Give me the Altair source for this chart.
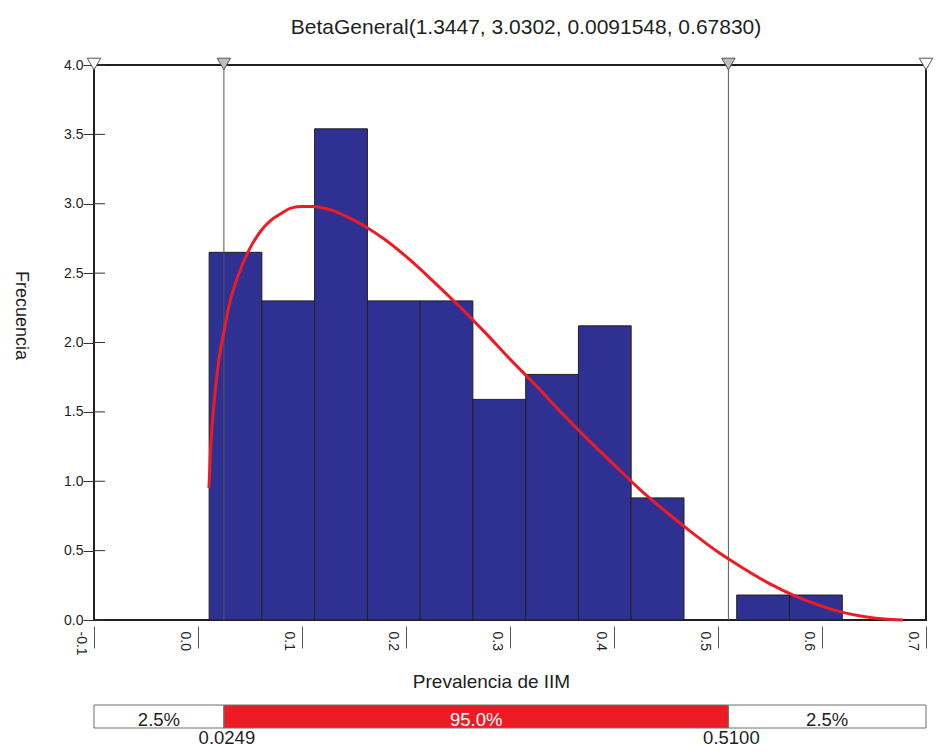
import altair as alt
import pandas as pd

# ---------------- data ----------------
bin_left = [0.0107, 0.0614, 0.1121, 0.1629, 0.2136, 0.2643, 0.3151, 0.3658, 0.4165, 0.4673, 0.5180, 0.5687]
bin_right = [0.0614, 0.1121, 0.1629, 0.2136, 0.2643, 0.3151, 0.3658, 0.4165, 0.4673, 0.5180, 0.5687, 0.6195]
bin_height = [2.65, 2.30, 3.54, 2.30, 2.30, 1.59, 1.77, 2.12, 0.88, 0.0, 0.18, 0.18]

curve_x = [0.0105, 0.012, 0.015, 0.020, 0.025, 0.030, 0.040, 0.050, 0.060, 0.070, 0.080, 0.090,
           0.100, 0.110, 0.120, 0.130, 0.145, 0.160, 0.180, 0.200, 0.225, 0.250, 0.275, 0.300,
           0.325, 0.350, 0.375, 0.400, 0.425, 0.450, 0.475, 0.500, 0.525, 0.550, 0.575, 0.600,
           0.620, 0.640, 0.660, 0.678]
curve_y = [0.95, 1.21, 1.53, 1.87, 2.08, 2.27, 2.51, 2.68, 2.80, 2.88, 2.93, 2.97,
           2.98, 2.98, 2.97, 2.95, 2.90, 2.84, 2.74, 2.62, 2.45, 2.27, 2.08, 1.88,
           1.69, 1.49, 1.30, 1.12, 0.94, 0.78, 0.63, 0.49, 0.37, 0.26, 0.17, 0.10,
           0.055, 0.025, 0.007, 0.0]

pct_values = [0.0249, 0.5100]
pct_labels = ["0.0249", "0.5100"]

band_start = [-0.1, 0.0249, 0.5100]
band_end = [0.0249, 0.5100, 0.7]
band_labels = ["2.5%", "95.0%", "2.5%"]
band_kind = ["tail", "mid", "tail"]

marker_x = [-0.1, 0.0249, 0.5100, 0.7]
marker_kind = ["end", "pct", "pct", "end"]

x_ticks = [-0.1, 0.0, 0.1, 0.2, 0.3, 0.4, 0.5, 0.6, 0.7]
y_ticks = [0.0, 0.5, 1.0, 1.5, 2.0, 2.5, 3.0, 3.5, 4.0]

title_text = "BetaGeneral(1.3447, 3.0302, 0.0091548, 0.67830)"
x_title = "Prevalencia de IIM"
y_title = "Frecuencia"

# ---------------- tables ----------------
bins_df = pd.DataFrame({"x0": bin_left, "x1": bin_right, "h": bin_height})
curve_df = pd.DataFrame({"x": curve_x, "y": curve_y})
pct_df = pd.DataFrame({"v": pct_values, "lab": pct_labels})
band_df = pd.DataFrame({"s": band_start, "e": band_end, "lab": band_labels, "kind": band_kind})
marker_df = pd.DataFrame({"x": marker_x, "kind": marker_kind})
ytick_df = pd.DataFrame({"t": y_ticks})

FONT = "Liberation Sans"
TXT = "#231f20"
W, H = 832, 555

xs = alt.Scale(domain=[-0.1, 0.7], nice=False, zero=False)
ys = alt.Scale(domain=[0, 4], nice=False, zero=False)

x_axis = alt.Axis(
    title=x_title, values=x_ticks, labelAngle=90,
    labelExpr="datum.value < 0 ? '-' + format(abs(datum.value), '.1f') : format(datum.value, '.1f')",
    offset=6, domain=False, tickSize=22, tickColor="#555", tickWidth=1,
    labelPadding=-17, labelOffset=-14, labelFontSize=14, labelColor=TXT, labelFont=FONT,
    labelFlush=False,
    titleFontSize=19, titleFont=FONT, titleFontWeight="normal", titleColor=TXT,
    titlePadding=17, titleX=397, grid=False)

y_axis = alt.Axis(
    title=y_title, values=y_ticks, format=".1f", domain=False,
    tickSize=11, tickColor="#333", labelPadding=0, labelFontSize=14, labelColor=TXT,
    labelFont=FONT, titleAngle=90, titleBaseline="top", titleFontSize=18,
    titleFont=FONT, titleFontWeight="normal", titleColor=TXT, titlePadding=34,
    titleY=250, grid=False)

bars = alt.Chart(bins_df).mark_rect(color="#2E3192", stroke="#231f20", strokeWidth=1).encode(
    x=alt.X("x0:Q", scale=xs, axis=x_axis),
    x2="x1:Q",
    y=alt.Y("h:Q", scale=ys, axis=y_axis),
    y2=alt.datum(0),
)

inner_ticks = alt.Chart(ytick_df).mark_rule(color="#333", strokeWidth=1).encode(
    y=alt.Y("t:Q", scale=ys, axis=y_axis),
    x=alt.value(0),
    x2=alt.value(11),
)

rules = alt.Chart(pct_df).mark_rule(color="#555", strokeWidth=1).encode(
    x=alt.X("v:Q", scale=xs, axis=x_axis),
    y=alt.value(0),
    y2=alt.value(H),
)

curve = alt.Chart(curve_df).mark_line(color="#ED1C24", strokeWidth=3, interpolate="monotone").encode(
    x=alt.X("x:Q", scale=xs, axis=x_axis),
    y=alt.Y("y:Q", scale=ys, axis=y_axis),
)

markers = alt.Chart(marker_df).mark_point(
    shape="triangle-down", size=180, filled=True, stroke="#555", strokeWidth=1, opacity=1
).encode(
    x=alt.X("x:Q", scale=xs, axis=x_axis),
    y=alt.value(-1),
    fill=alt.Fill("kind:N", scale=alt.Scale(domain=["end", "pct"], range=["#ffffff", "#bcbec0"]), legend=None),
)

top = alt.layer(bars, inner_ticks, rules, curve, markers).properties(
    width=W, height=H,
    title=alt.TitleParams(title_text, fontSize=21, font=FONT, fontWeight="normal",
                          color=TXT, anchor="middle", offset=18, dx=16),
    view=alt.ViewBackground(stroke="#231f20", strokeWidth=2),
)

band_rect = alt.Chart(band_df).mark_rect(stroke="#6d6e71", strokeWidth=1).encode(
    x=alt.X("s:Q", scale=xs, axis=None),
    x2="e:Q",
    y=alt.value(0),
    y2=alt.value(23),
    fill=alt.Fill("kind:N", scale=alt.Scale(domain=["tail", "mid"], range=["#ffffff", "#ED1C24"]), legend=None),
)

band_text = alt.Chart(band_df).transform_calculate(
    m="(datum.s + datum.e) / 2"
).mark_text(fontSize=18.5, font=FONT, baseline="alphabetic", align="center").encode(
    x=alt.X("m:Q", scale=xs, axis=None),
    y=alt.value(21),
    text="lab:N",
    color=alt.Color("kind:N", scale=alt.Scale(domain=["tail", "mid"], range=[TXT, "#ffffff"]), legend=None),
)

pct_text = alt.Chart(pct_df).mark_text(fontSize=18.5, font=FONT, baseline="alphabetic",
                                       align="center", color=TXT, dx=3).encode(
    x=alt.X("v:Q", scale=xs, axis=None),
    y=alt.value(39),
    text="lab:N",
)

bottom = alt.layer(band_rect, band_text, pct_text).properties(
    width=W, height=23,
    view=alt.ViewBackground(stroke="transparent"),
)

chart = alt.vconcat(top, bottom, spacing=11).resolve_scale(
    x="independent", fill="independent", color="independent"
).properties(
    padding={"left": 2, "top": 8, "right": 0, "bottom": 0},
    background="white",
).configure_view(stroke="transparent").configure_axis(grid=False)

chart.save("out.html", embed_options={"renderer": "svg", "actions": False})
